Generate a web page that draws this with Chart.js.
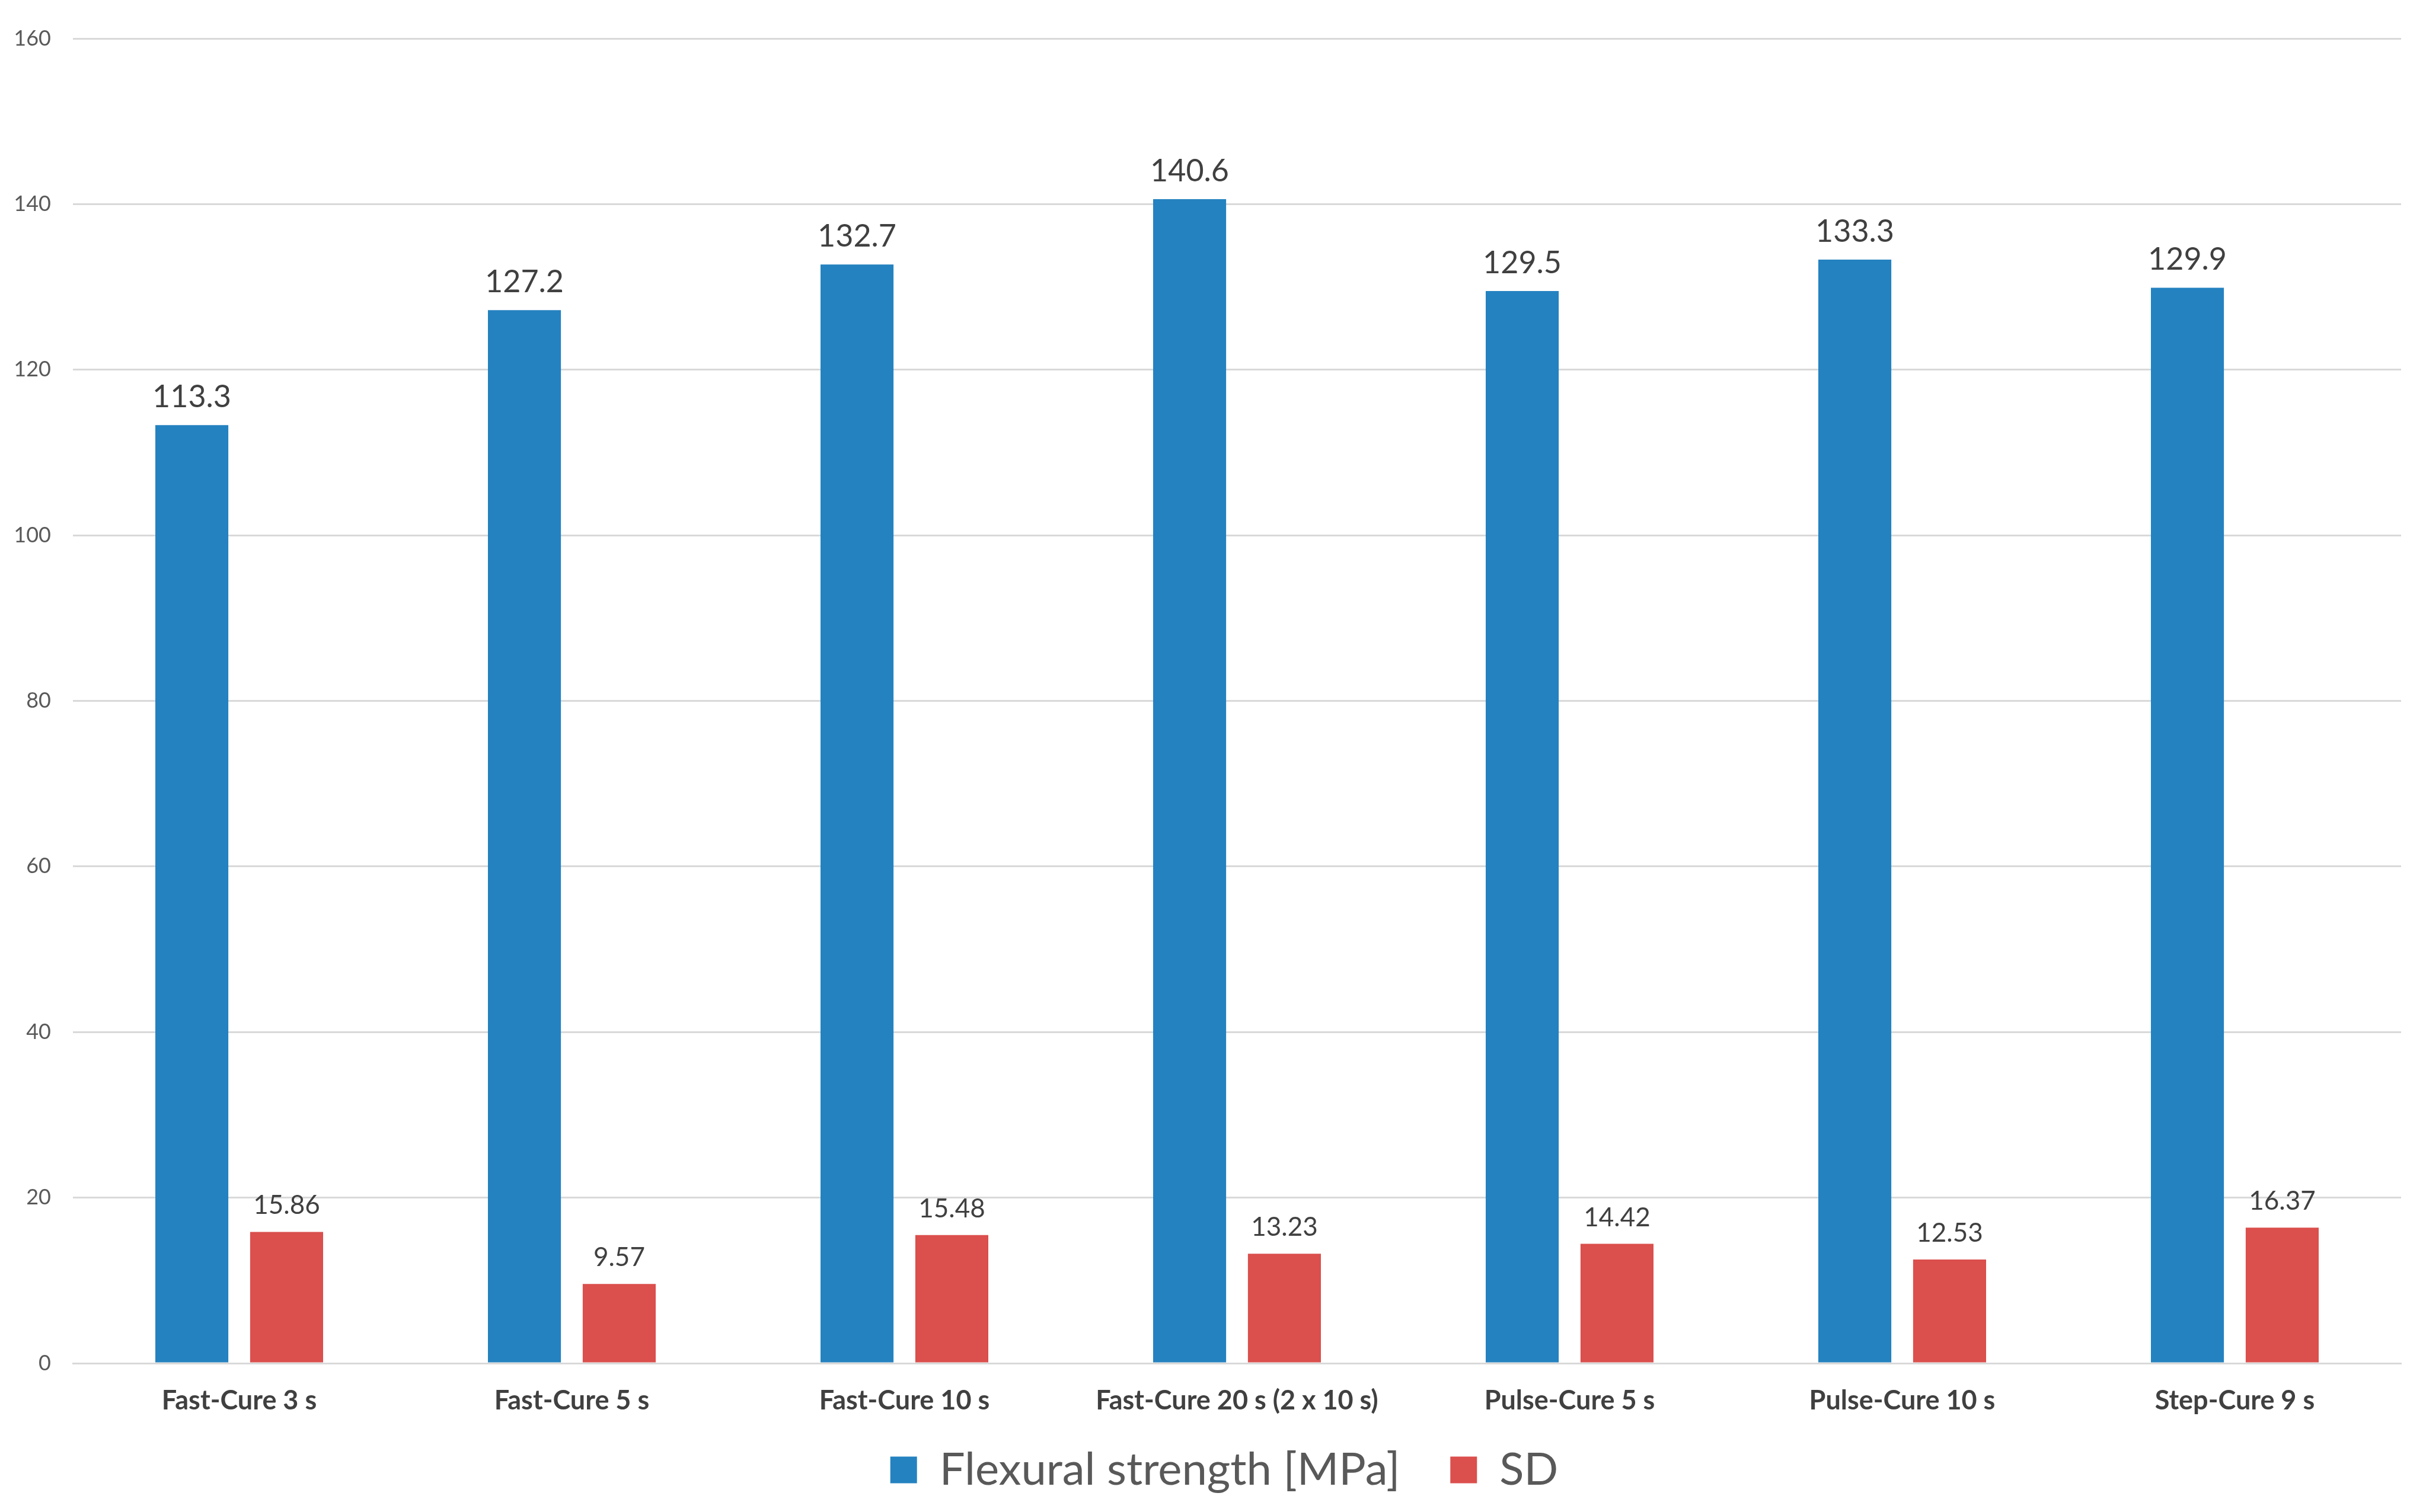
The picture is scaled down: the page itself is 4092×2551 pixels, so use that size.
<!DOCTYPE html>
<html>
<head>
<meta charset="utf-8">
<script src="https://cdn.jsdelivr.net/npm/chart.js@4"></script>
<style>
  html, body { margin: 0; padding: 0; background: #ffffff; }
  canvas { display: block; }
</style>
</head>
<body>
<canvas id="flexChart" width="4092" height="2551"></canvas>
<script>
// Данные графика
const categories = [
    'Fast-Cure 3 s',
    'Fast-Cure 5 s',
    'Fast-Cure 10 s',
    'Fast-Cure 20 s (2 x 10 s)',
    'Pulse-Cure 5 s',
    'Pulse-Cure 10 s',
    'Step-Cure 9 s'
];
const flexuralStrength = [113.3, 127.2, 132.7, 140.6, 129.5, 133.3, 129.9];
const sdValues = [15.86, 9.57, 15.48, 13.23, 14.42, 12.53, 16.37];
const yTicks = [0, 20, 40, 60, 80, 100, 120, 140, 160];

const FONT = 'Lato, "Open Sans", "DejaVu Sans", sans-serif';

// Подписи значений над столбцами
const valueLabels = {
    id: 'valueLabels',
    afterDatasetsDraw(chart) {
        const ctx = chart.ctx;
        ctx.save();
        ctx.fillStyle = '#404040';
        ctx.textAlign = 'center';
        ctx.textBaseline = 'alphabetic';
        chart.data.datasets.forEach((ds, i) => {
            const meta = chart.getDatasetMeta(i);
            ctx.font = (i === 0 ? '52px ' : '44px ') + FONT;
            meta.data.forEach((bar, j) => {
                const txt = ds.data[j].toFixed(i === 0 ? 1 : 2);
                ctx.fillText(txt, bar.x, bar.y - 30);
            });
        });
        ctx.restore();
    }
};

// Небольшой сдвиг легенды вправо
const legendShift = {
    id: 'legendShift',
    afterLayout(chart) {
        if (chart.legend) {
            chart.legend.left += 40;
            chart.legend.right += 40;
        }
    }
};

const ctx = document.getElementById('flexChart').getContext('2d');
new Chart(ctx, {
    type: 'bar',
    data: {
        labels: categories,
        datasets: [{
            label: 'Flexural strength [MPa]',
            data: flexuralStrength,
            backgroundColor: 'rgb(36, 130, 192)',
            borderWidth: 0,
            categoryPercentage: 0.57,
            barPercentage: 0.77
        },
        {
            label: 'SD',
            data: sdValues,
            backgroundColor: 'rgb(219, 79, 77)',
            borderWidth: 0,
            categoryPercentage: 0.57,
            barPercentage: 0.77
        }]
    },
    options: {
        responsive: false,
        animation: false,
        layout: {
            padding: { top: 65, left: 0, right: 42, bottom: 23 }
        },
        plugins: {
            tooltip: { enabled: false },
            legend: {
                position: 'bottom',
                labels: {
                    boxWidth: 45,
                    boxHeight: 45,
                    padding: 7,
                    color: '#595959',
                    font: { family: FONT, size: 76 },
                    // пробелы после первой подписи — расстояние между элементами легенды
                    generateLabels(chart) {
                        const items = Chart.defaults.plugins.legend.labels.generateLabels(chart);
                        items.forEach((it, i) => {
                            if (i < items.length - 1) it.text = it.text + '    ';
                        });
                        return items;
                    }
                }
            }
        },
        scales: {
            x: {
                grid: { display: false, drawTicks: false },
                border: { color: '#d9d9d9', width: 3 },
                afterFit(axis) { axis.height = 135; },
                ticks: {
                    color: '#404040',
                    padding: 36,
                    autoSkip: false,
                    maxRotation: 0,
                    font: { family: FONT, size: 45, weight: 'bold' }
                }
            },
            y: {
                min: 0,
                max: 160,
                afterBuildTicks(axis) {
                    axis.ticks = yTicks.map(v => ({ value: v }));
                },
                afterFit(axis) { axis.width = 123; },
                grid: { color: '#d9d9d9', lineWidth: 3, drawTicks: false },
                border: { display: false },
                ticks: {
                    color: '#595959',
                    padding: 37,
                    font: { family: FONT, size: 36 }
                }
            }
        }
    },
    plugins: [valueLabels, legendShift]
});
</script>
</body>
</html>
